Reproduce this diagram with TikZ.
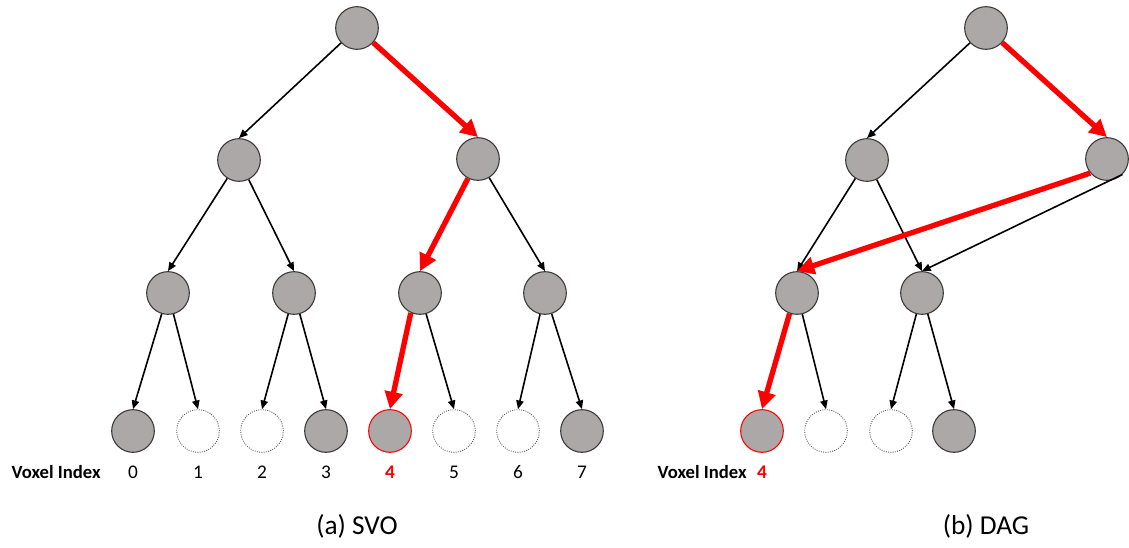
\documentclass[tikz,border=0pt]{standalone}
\usepackage{fontspec}
\setmainfont{Carlito}
\usetikzlibrary{arrows.meta}
\definecolor{nodegray}{RGB}{172,168,168}
\definecolor{rimgray}{RGB}{55,55,55}
\definecolor{hotred}{RGB}{255,0,0}
\begin{document}
\begin{tikzpicture}[x=0.75pt,y=-0.75pt,
  full/.style={circle,draw=rimgray,line width=0.8pt,fill=nodegray,minimum size=32pt,inner sep=0pt},
  void/.style={circle,draw=rimgray!80,densely dotted,line width=0.7pt,fill=white,minimum size=32pt,inner sep=0pt},
  hit/.style={full,draw=hotred},
  link/.style={-{Triangle[length=6.5pt,width=5.5pt]},line width=1.2pt,black},
  route/.style={-{Triangle[length=13pt,width=13pt]},line width=4pt,hotred},
  idx/.style={font=\fontsize{14.5}{17}\selectfont},
  idxred/.style={text=hotred,font=\bfseries\fontsize{14.5}{17}\selectfont},
  idxhead/.style={font=\bfseries\fontsize{14}{17}\selectfont,anchor=west},
  caption/.style={font=\fontsize{20.5}{24}\selectfont}]
\useasboundingbox (0,0) rectangle (1129,548);

% ---- sparse voxel octree ----
\node[full] (a0) at (357,28) {};
\node[full] (a1) at (239,160) {};
\node[full] (a2) at (478,159) {};
\node[full] (a3) at (168,293) {};
\node[full] (a4) at (294,293) {};
\node[full] (a5) at (420,293) {};
\node[full] (a6) at (545,293) {};
\node[full] (v0) at (133,431) {};
\node[void] (v1) at (198,431) {};
\node[void] (v2) at (262,431) {};
\node[full] (v3) at (326,431) {};
\node[hit]  (v4) at (390,431) {};
\node[void] (v5) at (454,431) {};
\node[void] (v6) at (518,431) {};
\node[full] (v7) at (582,431) {};

\draw[link] (a0) -- (a1.north);
\draw[route] (a0) -- (a2.north);
\draw[link] (a1) -- (a3.north);
\draw[link] (a1) -- (a4.north);
\draw[route] (a2) -- (a5.north);
\draw[link] (a2) -- (a6.north);
\draw[link] (a3) -- (v0.north);
\draw[link] (a3) -- (v1.north);
\draw[link] (a4) -- (v2.north);
\draw[link] (a4) -- (v3.north);
\draw[route] (a5.-115) -- (v4.north);
\draw[link] (a5) -- (v5.north);
\draw[link] (a6) -- (v6.north);
\draw[link] (a6) -- (v7.north);

\node[idxhead] (ah) at (7,472) {Voxel Index};
\node[idx] (n0) at (133,472) {0};
\node[idx] (n1) at (198,472) {1};
\node[idx] (n2) at (262,472) {2};
\node[idx] (n3) at (326,472) {3};
\node[idxred] (n4) at (390,472) {4};
\node[idx] (n5) at (454,472) {5};
\node[idx] (n6) at (518,472) {6};
\node[idx] (n7) at (582,472) {7};
\node[caption] (capa) at (357,526) {(a) SVO};

% ---- directed acyclic graph ----
\node[full] (b0) at (986,28) {};
\node[full] (b1) at (867,160) {};
\node[full] (b2) at (1107,159) {};
\node[full] (b3) at (797,293) {};
\node[full] (b4) at (922,293) {};
\node[hit]  (w0) at (762,431) {};
\node[void] (w1) at (826,431) {};
\node[void] (w2) at (891,431) {};
\node[full] (w3) at (954,431) {};

\draw[link] (b0) -- (b1.north);
\draw[route] (b0) -- (b2.north);
\draw[link] (b1) -- (b3.north);
\draw[link] (b1) -- (b4.north);
\draw[route] (b2.-140) -- (b3.north);
\draw[link] (b2.-45) -- (b4.north);
\draw[route] (b3.-110) -- (w0.north);
\draw[link] (b3) -- (w1.north);
\draw[link] (b4) -- (w2.north);
\draw[link] (b4) -- (w3.north);

\node[idxhead] (bh) at (653,472) {Voxel Index};
\node[idxred] (m0) at (762,472) {4};
\node[caption] (capb) at (986,526) {(b) DAG};
\end{tikzpicture}
\end{document}
